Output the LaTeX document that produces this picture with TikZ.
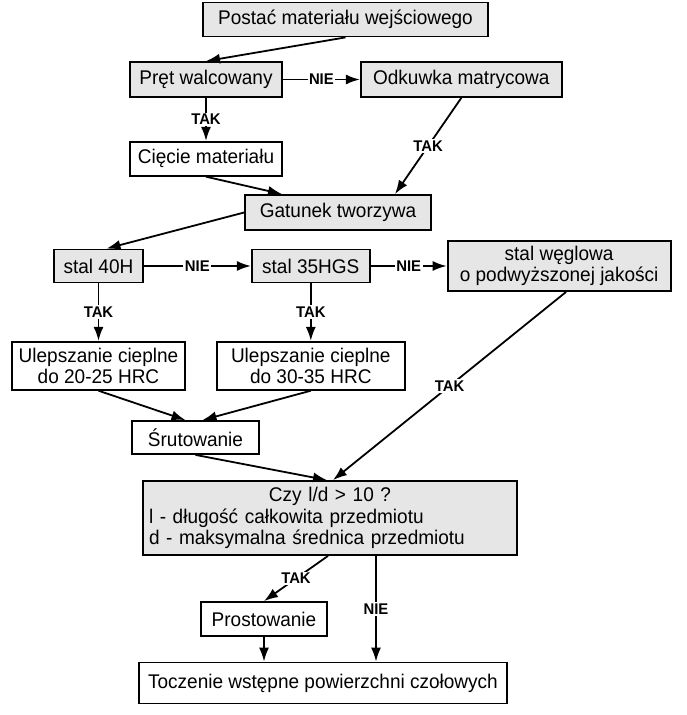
\documentclass[tikz,border=0pt]{standalone}
\usepackage{fontspec}
\setmainfont[FakeStretch=0.96]{Liberation Sans}
\usetikzlibrary{positioning,arrows.meta}
\definecolor{boxgrey}{RGB}{230,230,230}

\begin{document}
\begin{tikzpicture}[x=1pt,y=-1pt,line width=1.8pt,>={Latex[length=14pt,width=10pt]},
	box/.style={draw=black,fill=white,inner sep=0pt,align=center,font=\fontsize{19.8}{21.5}\selectfont},
	grey/.style={box,fill=boxgrey},
	lbl/.style={fill=white,inner sep=1.5pt,font=\fontsize{15.5}{16}\selectfont\bfseries}]

		\useasboundingbox (0,0) rectangle (686,715);

		% the input material
		\node[grey,minimum width=285pt,minimum height=34pt] (post) at (345.5,19.5) {Postać materiału wejściowego};
		\node[grey,minimum width=152pt,minimum height=35pt] (pret) at (206,79.5) {Pręt walcowany};
		\node[grey,minimum width=201pt,minimum height=35pt,right=77pt of pret] (odk) {Odkuwka matrycowa};
		\node[box,minimum width=152pt,minimum height=34pt,below=43pt of pret] (ciec) {Cięcie materiału};
		\node[grey,minimum width=186pt,minimum height=35pt] (gat) at (338,212.5) {Gatunek tworzywa};

		% the steel grades
		\node[grey,minimum width=89pt,minimum height=33pt] (s40) at (98.5,266) {stal 40H};
		\node[grey,minimum width=118pt,minimum height=33pt,right=107pt of s40] (s35) {stal 35HGS};
		\node[grey,minimum width=223pt,minimum height=50pt,right=76pt of s35] (wegl) {stal węglowa\\o podwyższonej jakości};
		\node[box,minimum width=173pt,minimum height=48pt,below=57.5pt of s40] (ulep1) {Ulepszanie cieplne\\do 20-25 HRC};
		\node[box,minimum width=188pt,minimum height=48pt,below=57.5pt of s35] (ulep2) {Ulepszanie cieplne\\do 30-35 HRC};
		\node[box,minimum width=127pt,minimum height=33pt] (srut) at (195.5,437.5) {Śrutowanie};

		% the l/d check and the turning
		\node[grey,minimum width=374pt,minimum height=74pt,text width=362pt,align=left] (czy) at (330,518)
			{\makebox[362pt]{Czy l/d > 10 ?}\\l - długość całkowita przedmiotu\\d - maksymalna średnica przedmiotu};
		\node[box,minimum width=126pt,minimum height=34pt] (prost) at (264,619) {Prostowanie};
		\node[box,minimum width=368pt,minimum height=41pt] (tocz) at (323,683) {Toczenie wstępne powierzchni czołowych};

		% connectors
		\draw[->] (post.south) -- (pret.north);
		\draw[->] (pret) -- node[lbl] {NIE} (odk);
		\draw[->] (pret) -- node[lbl] {TAK} (ciec);
		\draw[->] (ciec.south) -- ([xshift=-56pt]gat.north);
		\draw[->] (odk.south) -- node[lbl] {TAK} ([xshift=57pt]gat.north);
		\draw[->] (gat.west) -- ([xshift=8pt]s40.north);
		\draw[->] (s40) -- node[lbl] {NIE} (s35);
		\draw[->] (s35) -- node[lbl] {NIE} (wegl);
		\draw[->] (s40) -- node[lbl] {TAK} (ulep1);
		\draw[->] (s35) -- node[lbl] {TAK} (ulep2);
		\draw[->] (ulep1.south) -- ([xshift=-10pt]srut.north);
		\draw[->] (ulep2.south) -- ([xshift=7pt]srut.north);
		\draw[->] (srut.south) -- ([xshift=-3pt]czy.north);
		\draw[->] ([xshift=7pt]wegl.south) -- node[lbl] {TAK} ([xshift=3pt]czy.north);
		\draw[->] ([xshift=-2pt]czy.south) -- node[lbl] {TAK} (prost.north);
		\draw[->] ([xshift=46pt]czy.south) -- node[lbl] {NIE} ([xshift=46pt]czy.south |- tocz.north);
		\draw[->] (prost) -- (prost |- tocz.north);

	\end{tikzpicture}
\end{document}
